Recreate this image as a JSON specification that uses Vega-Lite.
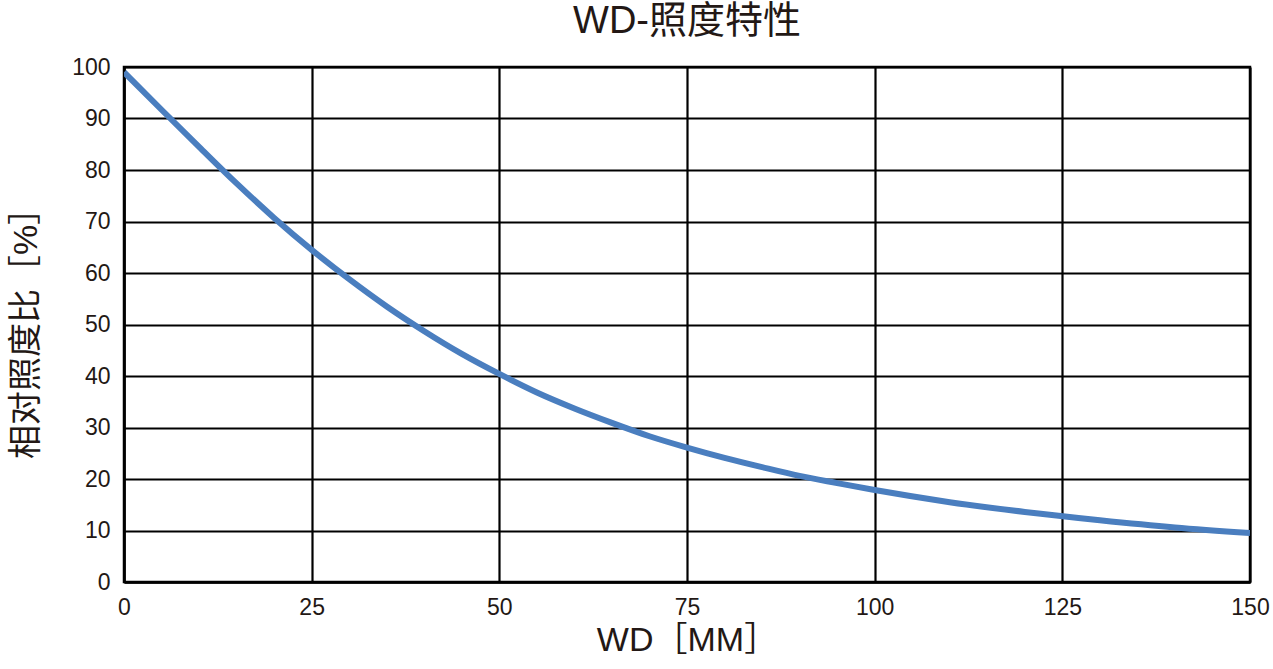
{
  "$schema": "https://vega.github.io/schema/vega-lite/v6.json",
  "width": 1126,
  "height": 515,
  "autosize": {"type": "none"},
  "padding": {"left": 124, "top": 67, "right": 23, "bottom": 87},
  "background": "white",
  "title": {
    "text": "WD-照度特性",
    "font": "Liberation Sans, Noto Sans CJK SC",
    "fontSize": 38,
    "fontWeight": "normal",
    "color": "#231815",
    "anchor": "middle",
    "offset": 14,
    "baseline": "bottom",
    "dy": 37
  },
  "config": {
    "view": {"stroke": "black", "strokeWidth": 2.5},
    "axis": {
      "labelFont": "Liberation Sans, Noto Sans CJK SC",
      "titleFont": "Liberation Sans, Noto Sans CJK SC",
      "labelColor": "#231815",
      "titleColor": "#231815",
      "labelFontSize": 23,
      "titleFontSize": 34,
      "titleFontWeight": "normal",
      "domainColor": "black",
      "domainWidth": 2.5,
      "gridColor": "black",
      "gridWidth": 2.2,
      "gridOpacity": 1,
      "ticks": false
    }
  },
  "data": {
    "values": [
      {"wd": 0, "ratio": 99.0},
      {"wd": 5, "ratio": 91.7},
      {"wd": 10, "ratio": 84.5},
      {"wd": 15, "ratio": 77.4},
      {"wd": 20, "ratio": 70.7},
      {"wd": 25, "ratio": 64.5},
      {"wd": 30, "ratio": 58.8},
      {"wd": 35, "ratio": 53.5},
      {"wd": 40, "ratio": 48.7},
      {"wd": 45, "ratio": 44.3},
      {"wd": 50, "ratio": 40.4},
      {"wd": 55, "ratio": 36.8},
      {"wd": 60, "ratio": 33.7},
      {"wd": 65, "ratio": 30.9},
      {"wd": 70, "ratio": 28.3},
      {"wd": 75, "ratio": 26.1},
      {"wd": 80, "ratio": 24.1},
      {"wd": 85, "ratio": 22.3},
      {"wd": 90, "ratio": 20.6},
      {"wd": 95, "ratio": 19.2},
      {"wd": 100, "ratio": 17.85},
      {"wd": 110, "ratio": 15.5},
      {"wd": 120, "ratio": 13.6},
      {"wd": 130, "ratio": 12.0},
      {"wd": 140, "ratio": 10.6},
      {"wd": 150, "ratio": 9.5}
    ]
  },
  "mark": {"type": "line", "color": "#4a7ebf", "strokeWidth": 6, "interpolate": "monotone", "clip": true},
  "encoding": {
    "x": {
      "field": "wd",
      "type": "quantitative",
      "scale": {"domain": [0, 150], "nice": false},
      "axis": {"values": [0, 25, 50, 75, 100, 125, 150], "title": "WD［MM］", "labelPadding": 14, "titlePadding": 4, "labelFlush": false}
    },
    "y": {
      "field": "ratio",
      "type": "quantitative",
      "scale": {"domain": [0, 100], "nice": false},
      "axis": {"values": [0, 10, 20, 30, 40, 50, 60, 70, 80, 90, 100], "title": "相对照度比［%］", "labelPadding": 14, "titlePadding": 28, "labelFlush": false}
    }
  }
}
